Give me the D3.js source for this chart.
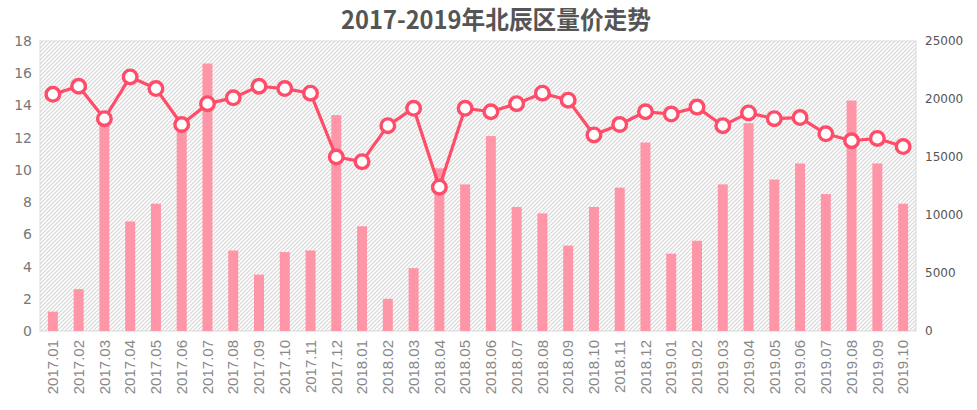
<!DOCTYPE html>
<html><head><meta charset="utf-8">
<script src="https://cdn.jsdelivr.net/npm/d3@7"></script>
<style>body{margin:0;background:#fff}svg{display:block}</style>
</head><body><svg id="c" width="977" height="410"></svg>
<script>
const categories = ["2017.01","2017.02","2017.03","2017.04","2017.05","2017.06","2017.07","2017.08","2017.09","2017.10","2017.11","2017.12",
"2018.01","2018.02","2018.03","2018.04","2018.05","2018.06","2018.07","2018.08","2018.09","2018.10","2018.11","2018.12",
"2019.01","2019.02","2019.03","2019.04","2019.05","2019.06","2019.07","2019.08","2019.09","2019.10"];
const volume = [1.2,2.6,13.2,6.8,7.9,12.6,16.6,5.0,3.5,4.9,5.0,13.4,
6.5,2.0,3.9,10.1,9.1,12.1,7.7,7.3,5.3,7.7,8.9,11.7,
4.8,5.6,9.1,12.9,9.4,10.4,8.5,14.3,10.4,7.9];
const price = [20400,21100,18300,21900,20900,17800,19600,20100,21100,20900,20500,15000,
14600,17700,19200,12400,19200,18900,19600,20500,19900,16900,17800,18900,
18700,19300,17700,18800,18300,18400,17000,16400,16600,15900];
const leftTicks = [0,2,4,6,8,10,12,14,16,18];
const rightTicks = [0,5000,10000,15000,20000,25000];
const title = "2017-2019年北辰区量价走势";

const svg = d3.select("#c");
const m = {l:40, r:61, t:41, b:79};
const W = 977, H = 410;
const x = d3.scaleBand().domain(categories).range([m.l, W-m.r]);
const yL = d3.scaleLinear().domain([0,18]).range([H-m.b, m.t]);
const yR = d3.scaleLinear().domain([0,25000]).range([H-m.b, m.t]);

const defs = svg.append("defs");
const pat = defs.append("pattern").attr("id","hatch").attr("patternUnits","userSpaceOnUse")
  .attr("width",4).attr("height",4);
pat.append("rect").attr("width",4).attr("height",4).attr("fill","#fff");
pat.append("path").attr("d","M-1,1 l2,-2 M0,4 l4,-4 M3,5 l2,-2").attr("stroke","#d6d6d6").attr("stroke-width",1.2);

svg.append("rect").attr("x",m.l).attr("y",m.t).attr("width",W-m.l-m.r).attr("height",H-m.t-m.b)
  .attr("fill","url(#hatch)").attr("stroke","#d9d9d9").attr("stroke-width",1);

svg.append("text").attr("x",496).attr("y",29).attr("text-anchor","middle")
  .attr("font-family","'Noto Sans CJK SC', sans-serif").attr("font-weight",700)
  .attr("font-size",25).attr("fill","#555").attr("textLength",310).attr("lengthAdjust","spacingAndGlyphs").text(title);

const bw = 10;
svg.append("g").selectAll("rect").data(volume).join("rect")
  .attr("x",(d,i)=>x(categories[i])+x.bandwidth()/2-bw/2)
  .attr("y",d=>yL(d)).attr("width",bw).attr("height",d=>yL(0)-yL(d))
  .attr("fill","#ff96a7");

const line = d3.line().x((d,i)=>x(categories[i])+x.bandwidth()/2).y(d=>yR(d));
svg.append("path").datum(price).attr("d",line).attr("fill","none")
  .attr("stroke","#ff4c69").attr("stroke-width",3.2).attr("stroke-linejoin","round");
svg.append("g").selectAll("circle").data(price).join("circle")
  .attr("cx",(d,i)=>x(categories[i])+x.bandwidth()/2).attr("cy",d=>yR(d)).attr("r",6.8)
  .attr("fill","#fff").attr("stroke","#ff4c69").attr("stroke-width",3.4);

const axL = svg.append("g").attr("transform",`translate(${m.l},0)`)
  .call(d3.axisLeft(yL).tickValues(leftTicks).tickSize(0).tickPadding(8));
axL.select(".domain").remove();
axL.selectAll("text").attr("font-family","'DejaVu Sans', Verdana, sans-serif").attr("font-size",14).attr("fill","#777");

const axR = svg.append("g").attr("transform",`translate(${W-m.r},0)`)
  .call(d3.axisRight(yR).tickValues(rightTicks).tickFormat(d3.format("d")).tickSize(0).tickPadding(9));
axR.select(".domain").remove();
axR.selectAll("text").attr("font-family","'DejaVu Sans', Verdana, sans-serif").attr("font-size",12).attr("fill","#555");

const axB = svg.append("g").attr("transform",`translate(0,${H-m.b})`)
  .call(d3.axisBottom(x).tickSize(0).tickPadding(0));
axB.select(".domain").remove();
axB.selectAll("text").attr("font-family","'Liberation Sans', Arial, sans-serif").attr("font-size",15)
  .attr("fill","#888").attr("text-anchor","end").attr("dy","0.35em")
  .attr("transform","translate(0,9) rotate(-90)");
</script></body></html>
